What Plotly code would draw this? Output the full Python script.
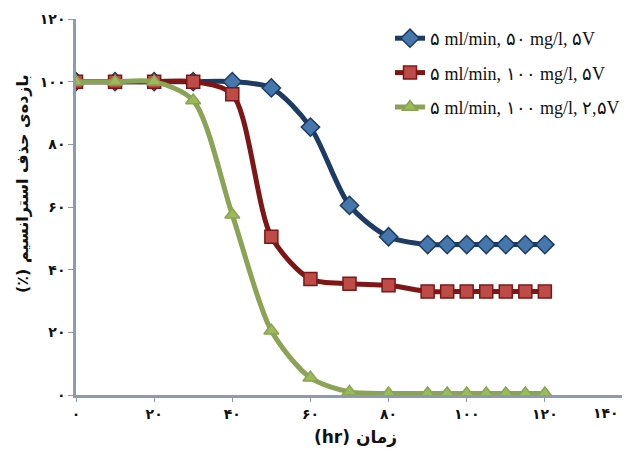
import plotly.graph_objects as go

hours = [0, 10, 20, 30, 40, 50, 60, 70, 80, 90, 95, 100, 105, 110, 115, 120]
s1_name = "۵ ml/min, ۵۰ mg/l, ۵V"
s2_name = "۵ ml/min, ۱۰۰ mg/l, ۵V"
s3_name = "۵ ml/min, ۱۰۰ mg/l, ۲,۵V"
s1_vals = [100, 100, 100, 100, 100, 98, 85.5, 60.5, 50.5, 48, 48, 48, 48, 48, 48, 48]
s2_vals = [100, 100, 100, 100, 96, 50.5, 37, 35.5, 35, 33, 33, 33, 33, 33, 33, 33]
s3_vals = [100, 100, 100, 94, 57.5, 20.5, 5.5, 1, 0.5, 0.5, 0.5, 0.5, 0.5, 0.5, 0.5, 0.5]

x_ticks = [0, 20, 40, 60, 80, 100, 120, 140]
x_labels = ["۰", "۲۰", "۴۰", "۶۰", "۸۰", "۱۰۰", "۱۲۰", "۱۴۰"]
y_ticks = [0, 20, 40, 60, 80, 100, 120]
y_labels = ["۰", "۲۰", "۴۰", "۶۰", "۸۰", "۱۰۰", "۱۲۰"]
x_title = "(hr) زمان"
y_title = "بازده‌ی حذف استرانسیم (٪)\u200f"

# page body has an 8px offset in the window; the figure is a bit wider than
# the window so the legend never forces the plot area to shrink
OFF = 8
W, H = 662, 461 - OFF
PX0, PX1, PY0, PY1 = 76, 623, 19, 395          # plot area in window pixels
L, R = PX0 - OFF, W - (PX1 - OFF)
T, B = PY0 - OFF, H - (PY1 - OFF)
PW, PH = PX1 - PX0, PY1 - PY0


def fx(sx):
    return (sx - PX0) / PW


def fy(sy):
    return (PY1 - sy) / PH


tickfont = dict(family="DejaVu Sans", size=14, color="#111", weight="bold")
# the last x label is pulled inside the chart edge, as in the original
x_ticktext = x_labels[:-1] + [""]

fig = go.Figure()
specs = [
    (s1_name, s1_vals, "#1d3b63", "#4577ad", "diamond", 14),
    (s2_name, s2_vals, "#7e1616", "#bd4b48", "square", 13),
    (s3_name, s3_vals, "#8aa355", "#9bbb59", "triangle-up", 13),
]
for i, (name, vals, lc, mc, sym, ms) in enumerate(specs):
    fig.add_trace(go.Scatter(
        x=hours, y=vals, name=name, mode="lines+markers",
        line=dict(color=lc, width=5, shape="spline", smoothing=0.8),
        marker=dict(symbol=sym, size=ms, color=mc, line=dict(color=lc, width=1.5)),
        legendgroup=f"g{i}",
    ))

fig.update_layout(
    width=W, height=H,
    margin=dict(l=L, r=R, t=T, b=B),
    paper_bgcolor="white", plot_bgcolor="white",
    showlegend=True,
    legend=dict(
        x=fx(390), y=fy(20), xanchor="left", yanchor="top",
        bgcolor="rgba(255,255,255,0.95)", borderwidth=0,
        font=dict(family="Liberation Serif, DejaVu Serif, serif", size=18, color="#111"),
        traceorder="grouped", tracegroupgap=8, itemwidth=30,
    ),
    xaxis=dict(
        range=[0, 140], tickvals=x_ticks, ticktext=x_ticktext,
        showline=True, linecolor="#8c9bb0", linewidth=2.5,
        ticks="outside", ticklen=4, tickcolor="#8c9bb0",
        showgrid=False, zeroline=False, automargin=False,
        ticklabeloverflow="allow", tickfont=tickfont,
    ),
    yaxis=dict(
        range=[0, 120], tickvals=y_ticks, ticktext=y_labels,
        showline=True, linecolor="#8c9bb0", linewidth=2.5,
        ticks="outside", ticklen=5, tickcolor="#8c9bb0",
        showgrid=False, zeroline=False, automargin=False,
        ticklabeloverflow="allow", tickfont=tickfont,
    ),
    annotations=[
        dict(text=x_labels[-1], xref="x", yref="paper", x=x_ticks[-1], y=0,
             yshift=-8, xshift=-2, showarrow=False, xanchor="right", yanchor="top",
             font=tickfont),
        dict(text=x_title, xref="paper", yref="paper", x=fx(355), y=fy(437),
             showarrow=False, xanchor="center", yanchor="middle",
             font=dict(family="DejaVu Sans", size=17, color="#111", weight="bold")),
        dict(text=y_title, xref="paper", yref="paper", x=fx(22), y=fy(184),
             showarrow=False, xanchor="center", yanchor="middle", textangle=-90,
             font=dict(family="DejaVu Sans", size=16, color="#111", weight="bold")),
    ],
    shapes=[
        dict(type="line", xref="paper", yref="paper", x0=fx(625), x1=fx(625),
             y0=0, y1=fy(50), line=dict(color="#b8c3d2", width=2)),
    ],
)

fig.write_html("out.html")
